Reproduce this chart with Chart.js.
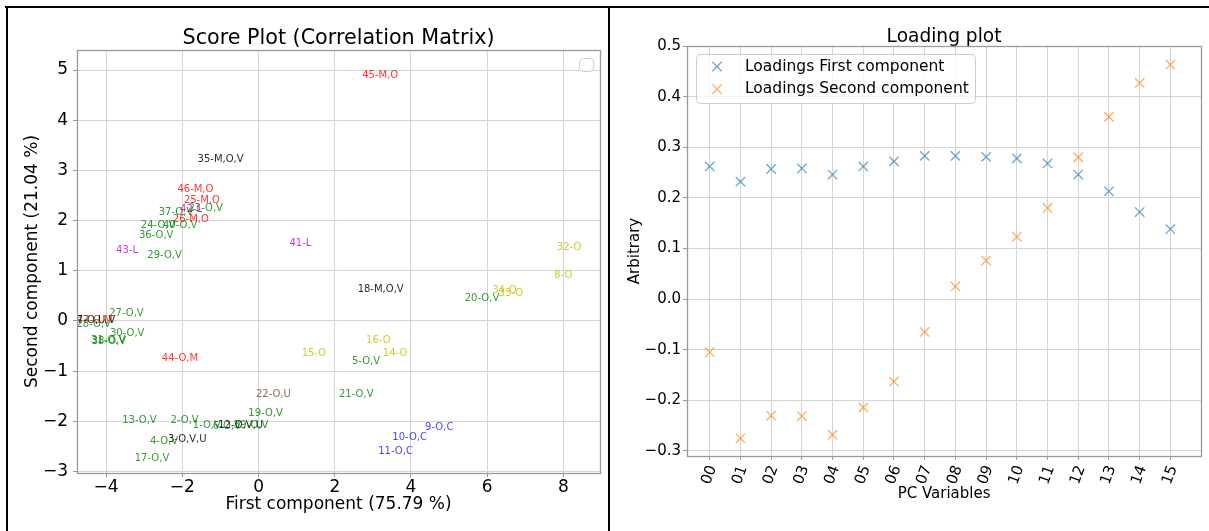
<!DOCTYPE html>
<html><head><meta charset="utf-8">
<script src="https://cdn.jsdelivr.net/npm/chart.js@4.4.0/dist/chart.umd.min.js"></script>
<style>
html,body{margin:0;padding:0;background:#fff;overflow:hidden;width:1209px;height:531px;}
#wrap{position:relative;width:1209px;height:531px;}
canvas{position:absolute;top:0;}
.ln{position:absolute;background:#000;z-index:5;}
</style></head><body>
<div id="wrap">
<canvas id="score" width="608" height="531" style="left:0px"></canvas>
<canvas id="load" width="599" height="531" style="left:610px"></canvas>
<div class="ln" style="left:5px;top:6px;width:1204px;height:2px"></div>
<div class="ln" style="left:6px;top:6px;width:2px;height:525px"></div>
<div class="ln" style="left:608px;top:6px;width:2px;height:525px"></div>
</div>
<script>
// ---------------- DATA ----------------
const scoreNames = ['45-M,O','35-M,O,V','46-M,O','25-M,O','23-O,V','42-L','37-O,V','26-M,O','24-O,V','40-O,V',
  '36-O,V','43-L','29-O,V','41-L','32-O','8-O','18-M,O,V','34-O','33-O','20-O,V',
  '27-O,V','47-O,M','7-O,U,V','28-O,V','30-O,V','31-O,V','38-O,V','16-O','15-O','14-O',
  '44-O,M','5-O,V','22-O,U','21-O,V','19-O,V','13-O,V','2-O,V','1-O,V','6-O,V','12-O,V,U',
  '39-O,V','9-O,C','10-O,C','3-O,V,U','4-O,V','11-O,C','17-O,V'];
const scoreX = [2.72,-1.60,-2.13,-1.96,-1.84,-2.06,-2.62,-2.25,-3.09,-2.51,
  -3.14,-3.74,-2.92,0.81,7.83,7.76,2.60,6.13,6.30,5.41,
  -3.92,-4.78,-4.77,-4.78,-3.90,-4.40,-4.38,2.82,1.13,3.26,
  -2.54,2.45,-0.07,2.11,-0.27,-3.58,-2.31,-1.73,-1.20,-1.06,
  -0.65,4.37,3.51,-2.38,-2.85,3.14,-3.25];
const scoreY = [4.85,3.17,2.58,2.35,2.19,2.17,2.11,1.97,1.85,1.86,
  1.66,1.35,1.25,1.49,1.41,0.85,0.57,0.55,0.50,0.40,
  0.10,-0.05,-0.04,-0.13,-0.30,-0.44,-0.45,-0.44,-0.69,-0.69,
  -0.79,-0.85,-1.52,-1.52,-1.89,-2.03,-2.03,-2.13,-2.15,-2.13,
  -2.13,-2.17,-2.37,-2.41,-2.45,-2.66,-2.80];
const scoreXTicks = [-4,-2,0,2,4,6,8];
const scoreYTicks = [-3,-2,-1,0,1,2,3,4,5];

const pcVariables = ['00','01','02','03','04','05','06','07','08','09','10','11','12','13','14','15'];
const loadingsFirst  = [0.262,0.232,0.257,0.258,0.246,0.262,0.272,0.283,0.283,0.281,0.278,0.268,0.246,0.213,0.172,0.138];
const loadingsSecond = [-0.105,-0.275,-0.230,-0.231,-0.268,-0.214,-0.163,-0.065,0.025,0.076,0.123,0.180,0.280,0.360,0.427,0.463];
const loadYTicks = [-0.3,-0.2,-0.1,0.0,0.1,0.2,0.3,0.4,0.5];

// ---------------- STYLE ----------------
Chart.defaults.font.family = '"DejaVu Sans", Verdana, sans-serif';
Chart.defaults.color = '#000';
const GRID = '#d4d4d4', SPINE = '#9a9a9a';
const groupColors = {
  'O,V':'rgba(0,128,0,0.8)', 'M,O':'rgba(255,0,0,0.8)', 'O,M':'rgba(255,0,0,0.8)',
  'L':'rgba(191,0,191,0.8)', 'M,O,V':'rgba(0,0,0,0.85)', 'O,V,U':'rgba(0,0,0,0.85)',
  'O,U,V':'rgba(0,0,0,0.85)', 'O':'rgba(191,191,0,0.8)', 'O,C':'rgba(0,0,255,0.75)',
  'O,U':'rgba(140,86,75,0.9)'
};
const blue = 'rgba(31,119,180,0.65)', orange = 'rgba(255,127,14,0.65)';
const minus = s => s.replace('-', '\u2212');

const framePlugin = {
  id:'frameBox',
  afterDraw(chart){
    const {left,top,right,bottom} = chart.chartArea, ctx = chart.ctx;
    ctx.save(); ctx.strokeStyle = SPINE; ctx.lineWidth = 1.3;
    ctx.strokeRect(Math.round(left)+0.5, Math.round(top)+0.5, Math.round(right-left), Math.round(bottom-top));
    ctx.restore();
  }
};
function legendFrame(ctx, x, y, w, h){
  ctx.save();
  ctx.fillStyle = 'rgba(255,255,255,0.8)'; ctx.strokeStyle = '#cccccc'; ctx.lineWidth = 1;
  ctx.beginPath(); ctx.roundRect(x+0.5, y+0.5, w, h, 4); ctx.fill(); ctx.stroke();
  ctx.restore();
}
const scoreLabelPlugin = {
  id:'scoreLabels',
  afterDatasetsDraw(chart){
    const ctx = chart.ctx, meta = chart.getDatasetMeta(0);
    ctx.save(); ctx.font = '10px "DejaVu Sans"'; ctx.textAlign = 'left'; ctx.textBaseline = 'alphabetic';
    meta.data.forEach((el,i) => {
      const name = scoreNames[i], grp = name.slice(name.indexOf('-')+1);
      ctx.fillStyle = groupColors[grp] || '#000';
      ctx.fillText(name, el.x, el.y);
    });
    ctx.restore();
  },
  afterDraw(chart){
    const {right, top} = chart.chartArea;
    legendFrame(chart.ctx, right-21, top+8, 14, 13);
  }
};
const loadLegendPlugin = {
  id:'loadLegend',
  afterDraw(chart){
    const {left, top} = chart.chartArea, ctx = chart.ctx;
    legendFrame(ctx, left+9, top+8, 279, 49);
    chart.data.datasets.forEach((ds,i) => {
      const cy = top + 20.5 + i*22.6, cx = left + 30;
      ctx.save(); ctx.strokeStyle = ds.borderColor; ctx.lineWidth = 1.3;
      ctx.beginPath(); ctx.moveTo(cx-4.7, cy-4.7); ctx.lineTo(cx+4.7, cy+4.7);
      ctx.moveTo(cx-4.7, cy+4.7); ctx.lineTo(cx+4.7, cy-4.7); ctx.stroke();
      ctx.fillStyle = '#000'; ctx.font = '15.5px "DejaVu Sans"'; ctx.textBaseline = 'middle';
      ctx.fillText(ds.label, left+58, cy);
      ctx.restore();
    });
  }
};

// ---------------- SCORE PLOT ----------------
new Chart(document.getElementById('score'), {
  type:'scatter',
  data:{ datasets:[{ label:'', data: scoreX.map((x,i)=>({x, y:scoreY[i]})), pointRadius:0, pointHoverRadius:0 }] },
  options:{
    responsive:false, animation:false, devicePixelRatio:1,
    layout:{ padding:{left:0, right:8, top:0, bottom:0} },
    plugins:{
      legend:{display:false}, tooltip:{enabled:false},
      title:{ display:true, fullSize:false, text:'Score Plot (Correlation Matrix)', font:{size:20.7, weight:'normal', lineHeight:1}, color:'#000', padding:{top:28, bottom:1.3} }
    },
    scales:{
      x:{ type:'linear', min:-4.765, max:8.96,
        afterBuildTicks: s => { s.ticks = scoreXTicks.map(v=>({value:v})); },
        afterFit: s => { s.height = 58; },
        ticks:{ font:{size:17}, padding:0, callback: v => minus(String(v)), autoSkip:false, maxRotation:0 },
        grid:{ color:GRID, tickColor:SPINE, tickLength:4 }, border:{display:false},
        title:{ display:true, text:'First component (75.79 %)', font:{size:17}, padding:{top:0, bottom:16} } },
      y:{ type:'linear', min:-3.03, max:5.40,
        afterBuildTicks: s => { s.ticks = scoreYTicks.map(v=>({value:v})); },
        afterFit: s => { s.width = 77; },
        ticks:{ font:{size:17}, padding:5, callback: v => minus(String(v)) },
        grid:{ color:GRID, tickColor:SPINE, tickLength:4 }, border:{display:false},
        title:{ display:true, text:'Second component (21.04 %)', font:{size:17}, padding:{top:22, bottom:0} } }
    }
  },
  plugins:[scoreLabelPlugin, framePlugin]
});

// ---------------- LOADING PLOT ----------------
new Chart(document.getElementById('load'), {
  type:'scatter',
  data:{ datasets:[
    { label:'Loadings First component', data: loadingsFirst.map((y,i)=>({x:i, y})), borderColor:blue, backgroundColor:blue,
      pointStyle:'crossRot', pointRadius:6.6, pointBorderWidth:1.3, pointHoverRadius:6.6 },
    { label:'Loadings Second component', data: loadingsSecond.map((y,i)=>({x:i, y})), borderColor:orange, backgroundColor:orange,
      pointStyle:'crossRot', pointRadius:6.6, pointBorderWidth:1.3, pointHoverRadius:6.6 }
  ]},
  options:{
    responsive:false, animation:false, devicePixelRatio:1,
    layout:{ padding:{left:0, right:7, top:0, bottom:0} },
    plugins:{
      legend:{display:false}, tooltip:{enabled:false},
      title:{ display:true, fullSize:false, text:'Loading plot', font:{size:18.6, weight:'normal', lineHeight:1}, color:'#000', padding:{top:27.4, bottom:0} }
    },
    scales:{
      x:{ type:'linear', min:-0.74, max:16,
        afterBuildTicks: s => { s.ticks = pcVariables.map((_,i)=>({value:i})); },
        afterFit: s => { s.height = 75; },
        ticks:{ font:{size:15}, padding:3, minRotation:70, maxRotation:70, autoSkip:false, labelOffset:3,
          callback: v => pcVariables[v] ?? '' },
        grid:{ color:GRID, tickColor:SPINE, tickLength:4 }, border:{display:false},
        title:{ display:true, text:'PC Variables', font:{size:15}, padding:{top:0, bottom:28} } },
      y:{ type:'linear', min:-0.31, max:0.5,
        afterBuildTicks: s => { s.ticks = loadYTicks.map(v=>({value:v})); },
        afterFit: s => { s.width = 77; },
        ticks:{ font:{size:15}, padding:2, callback: v => minus(Number(v).toFixed(1)) },
        grid:{ color:GRID, tickColor:SPINE, tickLength:4 }, border:{display:false},
        title:{ display:true, text:'Arbitrary', font:{size:15}, padding:{top:16, bottom:0} } }
    }
  },
  plugins:[loadLegendPlugin, framePlugin]
});
</script>
</body></html>
